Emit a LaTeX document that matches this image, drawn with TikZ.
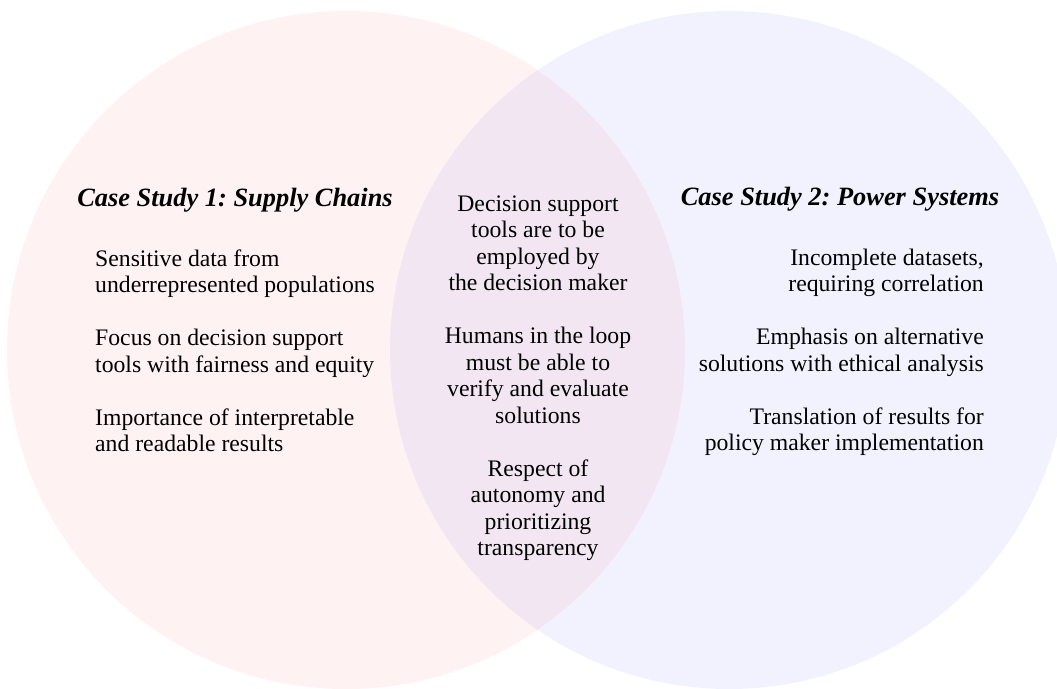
\documentclass[tikz,border=0pt]{standalone}
\usepackage{fontspec}
\setmainfont{Liberation Serif}
\frenchspacing
\begin{document}
\begin{tikzpicture}[x=1pt,y=-1pt,
  title/.style={inner sep=0pt,anchor=base,font=\fontsize{26.4}{30}\selectfont\bfseries\itshape},
  body/.style={inner sep=0pt,font=\fontsize{23.7}{26.5}\selectfont},
  lefttext/.style={body,anchor=base west,align=left},
  midtext/.style={body,anchor=base,align=center},
  righttext/.style={body,anchor=base east,align=right}]
\useasboundingbox (0,0) rectangle (1057,688);
\clip (0,0) rectangle (1057,688);
\fill[red,fill opacity=0.05] (346,350) circle[radius=339];
\fill[blue,fill opacity=0.05] (729,350) circle[radius=339];
\node[title] (t1) at (235,206) {Case Study 1: Supply Chains};
\node[title] (t2) at (840,205) {Case Study 2: Power Systems};
% anchors are at the baseline of each block's last line
\node[lefttext] (l1) at (95,292.5) {Sensitive data from\\underrepresented populations};
\node[lefttext] (l2) at (95,372) {Focus on decision support\\tools with fairness and equity};
\node[lefttext] (l3) at (95,451.5) {Importance of interpretable\\and readable results};
\node[midtext] (m1) at (538,290.5) {Decision support\\tools are to be\\employed by\\the decision maker};
\node[midtext] (m2) at (538,423) {Humans in the loop\\must be able to\\verify and evaluate\\solutions};
\node[midtext] (m3) at (538,555.5) {Respect of\\autonomy and\\prioritizing\\transparency};
\node[righttext] (r1) at (984,291.5) {Incomplete datasets,\\requiring correlation};
\node[righttext] (r2) at (984,371) {Emphasis on alternative\\solutions with ethical analysis};
\node[righttext] (r3) at (984,450.5) {Translation of results for\\policy maker implementation};
\end{tikzpicture}
\end{document}
